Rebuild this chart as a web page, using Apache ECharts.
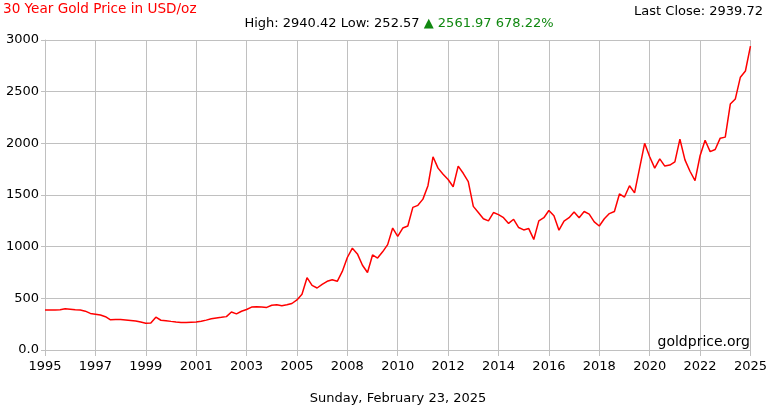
<!DOCTYPE html>
<html>
<head>
<meta charset="utf-8">
<script src="https://cdn.jsdelivr.net/npm/echarts@6/dist/echarts.min.js"></script>
<style>
html,body{margin:0;padding:0;background:#fff;}
#chart{width:770px;height:410px;}
</style>
</head>
<body>
<div id="chart"></div>
<script>
// Tick labels of the x axis (evenly spaced in the original chart)
var yearLabels = ['1995','1997','1999','2001','2003','2005','2008','2010','2012','2014','2016','2018','2020','2022','2025'];
// Y axis ticks
var yTicks = [0, 500, 1000, 1500, 2000, 2500, 3000];
// Gold price (USD/oz), sampled evenly along the x axis (10 samples per label interval)
var prices = [
  387, 387, 387, 390, 400, 395, 389, 387, 376, 354,
  347, 338, 322, 292, 296, 294, 291, 286, 281, 270,
  258, 262, 318, 288, 284, 277, 271, 266, 265, 268,
  271, 278, 289, 302, 310, 316, 323, 368, 350, 375,
  392, 415, 419, 417, 412, 433, 438, 428, 437, 450,
  485, 540, 700, 625, 600, 635, 665, 680, 665, 760,
  895, 985, 930, 820, 750, 920, 890, 950, 1020, 1180,
  1100, 1180, 1200, 1380, 1400, 1460, 1590, 1870, 1760, 1700,
  1650, 1580, 1780, 1710, 1630, 1390, 1330, 1270, 1250, 1330,
  1310, 1280, 1225, 1265, 1185, 1162, 1175, 1070, 1250, 1280,
  1350, 1300, 1160, 1248, 1280, 1335, 1280, 1340, 1315, 1240,
  1200, 1270, 1320, 1340, 1510, 1480, 1590, 1520, 1760, 2000,
  1870, 1760, 1850, 1780, 1790, 1820, 2040, 1840, 1730, 1640,
  1880, 2030, 1920, 1940, 2050, 2060, 2380, 2430, 2640, 2700,
  2940
];
var titleText = '30 Year Gold Price in USD/oz';
var statsText = 'High: 2940.42 Low: 252.57 ';
var changeText = '\u25B2 2561.97 678.22%';
var lastCloseText = 'Last Close: 2939.72';
var dateText = 'Sunday, February 23, 2025';
var brandText = 'goldprice.org';

var sampleIdx = prices.map(function (_, i) { return i; });
var FONT = 'DejaVu Sans';
var GRID = '#c0c0c0';

var chart = echarts.init(document.getElementById('chart'), null, {renderer: 'canvas'});
chart.setOption({
  animation: false,
  backgroundColor: '#ffffff',
  grid: {left: 45, right: 18, top: 40, bottom: 60, containLabel: false},
  xAxis: [{
    type: 'value',
    min: 0, max: yearLabels.length - 1, interval: 1,
    axisLine: {show: true, lineStyle: {color: GRID, width: 1}},
    axisTick: {show: true, length: 6, lineStyle: {color: GRID}},
    splitLine: {show: true, lineStyle: {color: GRID, width: 1}},
    axisLabel: {
      margin: 10, color: '#000', fontFamily: FONT, fontSize: 13,
      formatter: function (v) { return yearLabels[Math.round(v)] || ''; }
    }
  }, {
    type: 'category',
    data: sampleIdx,
    boundaryGap: false,
    show: false
  }],
  yAxis: {
    type: 'value',
    min: yTicks[0], max: yTicks[yTicks.length - 1], interval: 500,
    axisLine: {show: true, lineStyle: {color: GRID, width: 1}},
    axisTick: {show: true, length: 4, lineStyle: {color: GRID}},
    splitLine: {show: true, lineStyle: {color: GRID, width: 1}},
    axisLabel: {
      margin: 6, color: '#000', fontFamily: FONT, fontSize: 13,
      formatter: function (v) { return v === 0 ? '0.0' : String(v); }
    }
  },
  series: [{
    type: 'line',
    xAxisIndex: 1,
    data: prices,
    showSymbol: false,
    symbol: 'none',
    lineStyle: {color: '#ff0000', width: 1.5},
    z: 5
  }],
  graphic: [
    {type: 'text', left: 3, top: 2, style: {text: titleText, fill: '#ff0000', font: '13.6px "DejaVu Sans"'}},
    {type: 'text', style: {x: 763, y: 12, text: lastCloseText, fill: '#000', font: '13px "DejaVu Sans"', textAlign: 'right', textVerticalAlign: 'middle'}},
    {type: 'text', style: {
      x: 399, y: 24, textAlign: 'center', textVerticalAlign: 'middle',
      text: '{a|' + statsText + '}{b|' + changeText + '}',
      rich: {
        a: {fill: '#000', fontFamily: FONT, fontSize: 13},
        b: {fill: '#118811', fontFamily: FONT, fontSize: 13}
      }
    }},
    {type: 'text', style: {x: 750, y: 342, text: brandText, fill: '#000', font: '14px "DejaVu Sans"', textAlign: 'right', textVerticalAlign: 'middle'}, z: 10},
    {type: 'text', style: {x: 398, y: 399, text: dateText, fill: '#000', font: '13px "DejaVu Sans"', textAlign: 'center', textVerticalAlign: 'middle'}}
  ]
});
</script>
</body>
</html>
